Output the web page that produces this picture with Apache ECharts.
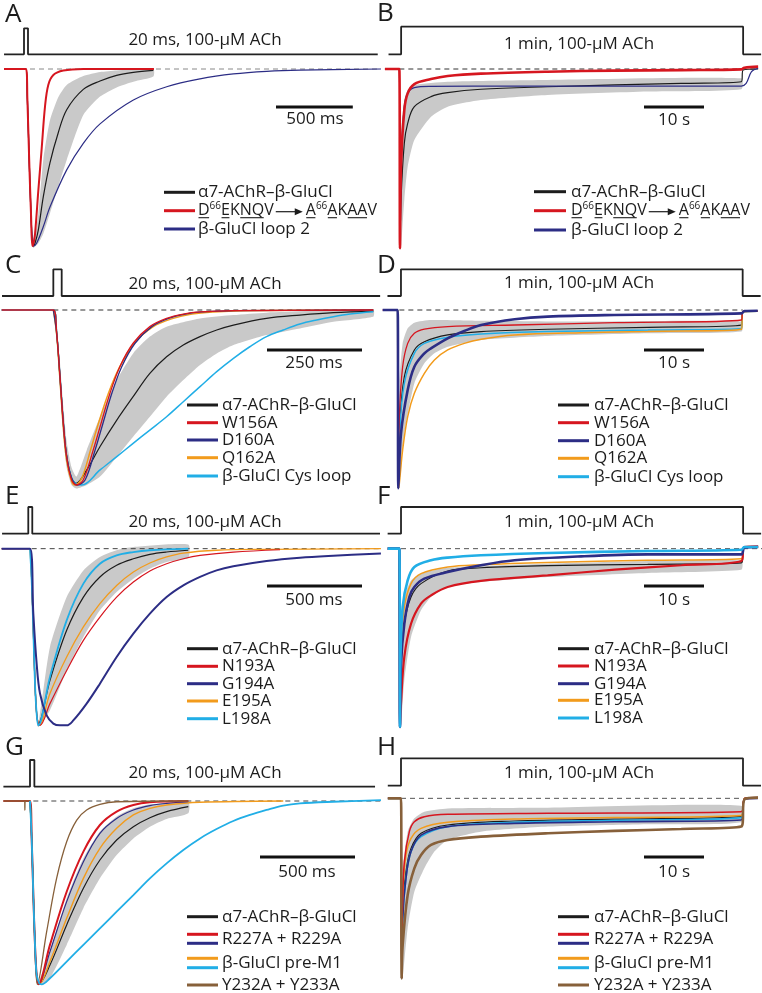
<!DOCTYPE html>
<html><head><meta charset="utf-8">
<script src="https://cdn.jsdelivr.net/npm/echarts@6/dist/echarts.min.js"></script>
<style>html,body{margin:0;padding:0;background:#fff}#c{width:762px;height:993px}</style>
</head><body><div id="c"></div>
<script>
// ===== DATA (time in ms for A,C,E,G; in s for B,D,F,H; current in % of peak) =====
const A_black=[[-143,0],[0,0],[9,-17],[22,-55],[33,-83],[41,-97],[48,-100],[60,-98],[80,-91],[113,-72],[156,-53],[210,-36],[265,-23],[373,-11.5],[482,-6.8],[590,-3.6],[699,-1.9],[829,-0.8]];
const A_red=[[-143,0],[0,0],[9,-17],[22,-55],[33,-83],[41,-100],[50,-98],[59,-93],[80,-69],[102,-45],[124,-21],[145,-9],[178,-3.4],[243,-0.9],[373,0],[833,0]];
const A_blue=[[-143,0],[0,0],[9,-17],[22,-55],[33,-83],[41,-97],[48,-100],[69,-98.5],[113,-89],[156,-78],[265,-57],[373,-42],[482,-31],[699,-17.5],[916,-10],[1133,-5.6],[1350,-2.8],[1567,-1.3],[1784,-0.6],[2311,0]];
const A_bandHi=[[0,0],[9,-15],[22,-50],[33,-80],[44,-96],[60,-93],[80,-82],[113,-51],[156,-29],[210,-16],[265,-9],[373,-4],[482,-1.7],[590,-0.8],[829,0]];
const A_bandLo=[[0,0],[9,-20],[22,-60],[33,-88],[46,-101],[80,-98.5],[113,-93],[156,-81.5],[210,-66.5],[265,-51.4],[373,-26],[482,-15.6],[590,-10.4],[699,-7.2],[829,-4.3]];

const B_black=[[-2.4,0],[0,0],[0.11,-100],[0.28,-73],[0.83,-41.4],[1.39,-30.3],[2.5,-21],[5.28,-15.4],[8.06,-13.2],[13.6,-11.3],[24.7,-9.9],[35.9,-8.9],[47,-8],[57,-7.1],[57.3,-0.6],[59.8,0]];
const B_red=[[-2.4,0],[0,0],[0.11,-100],[0.28,-54.5],[0.83,-22.9],[1.39,-13.6],[2.5,-8.4],[5.28,-5.6],[8.06,-3.9],[13.6,-2.6],[24.7,-1.5],[35.9,-0.9],[47,-0.6],[57,-0.2],[57.5,0.7],[59.8,1.3]];
const B_blue=[[-2.4,0],[0,0],[0.11,-100],[0.39,-45.2],[0.83,-21],[1.39,-13.6],[2.5,-10.4],[5.28,-9.7],[19.2,-9.5],[57,-9.5],[57.8,-8],[58.7,-1.5],[59.8,0.4]];
const B_bandHi=[[0,0],[0.11,-90],[0.28,-35.9],[0.83,-17.3],[1.39,-11.7],[2.5,-8.9],[8.06,-7.1],[24.7,-6.1],[57,-5.2]];
const B_bandLo=[[0,0],[0.11,-100],[0.28,-100],[0.83,-73],[1.39,-54.5],[2.5,-39.6],[5.28,-26.6],[8.06,-21],[13.6,-17.3],[24.7,-14.5],[41.4,-12.6],[57,-11.3]];

const C_black=[[-136,0],[0,0],[8.8,-13],[17.5,-38],[26.3,-64],[35,-83],[48,-96],[60,-99],[88,-91.4],[123,-78],[167,-62.9],[210,-49.5],[254,-36.2],[298,-26.7],[342,-20],[386,-15.2],[430,-11.4],[474,-8.6],[561,-4.8],[649,-2.9],[737,-1.5],[842,-0.8]];
const C_red=[[-136,0],[0,0],[8.8,-13.3],[17.5,-38],[26.3,-64.8],[35,-83.8],[48,-97],[61,-100],[79,-97],[105,-80],[123,-66.7],[149,-47.6],[175,-32.4],[210,-19],[254,-9.5],[298,-4.8],[342,-2.3],[386,-1.1],[474,-0.4],[842,0]];
const C_blue=[[0,0],[8.8,-13.3],[17.5,-38],[26.3,-64.8],[35,-83.8],[48,-96],[63,-100],[84,-97],[110,-80],[128,-66.7],[154,-47.6],[180,-32.4],[215,-19],[259,-9.5],[303,-4.8],[347,-2.3],[391,-1.1],[479,-0.4],[842,0]];
const C_orange=[[0,0],[8.8,-14],[17.5,-40],[26.3,-67],[35,-86],[48,-98],[57,-100],[75,-96],[98,-80],[116,-66.7],[145,-47.6],[175,-32.4],[213,-19],[263,-9.5],[315,-4.8],[365,-2.3],[420,-1.1],[500,-0.4],[842,0]];
const C_cyan=[[-136,0],[0,0],[8.8,-13.3],[17.5,-38],[26.3,-64.8],[35,-83.8],[48,-96],[61,-99.5],[75,-100],[123,-91.4],[167,-83.8],[210,-76.2],[254,-68.6],[298,-61],[342,-52.4],[386,-43.8],[430,-35.2],[474,-27.6],[517,-21],[561,-15.2],[605,-11.4],[649,-8],[693,-5.7],[737,-3.8],[781,-2.3],[842,-1]];
const C_bandHi=[[0,0],[8.8,-10],[17.5,-30],[26.3,-55],[35,-75],[48,-90],[61,-95.2],[88,-80],[123,-61],[167,-40],[210,-24.8],[254,-15.2],[298,-9.5],[386,-4.8],[474,-2.9],[561,-1.5],[842,0]];
const C_bandLo=[[0,0],[8.8,-18],[17.5,-45],[26.3,-72],[35,-90],[48,-100],[61,-102],[88,-100],[123,-95.2],[167,-83.8],[210,-72.4],[254,-61],[298,-49.5],[342,-40],[386,-31.4],[430,-24.8],[474,-20],[561,-14.3],[649,-10.5],[737,-6.7],[842,-3.8]];

const D_red=[[-2.5,0],[0,0],[0.11,-100],[0.28,-59.8],[0.83,-31.8],[1.67,-18.7],[2.78,-13.1],[4.45,-10.7],[8.34,-9.3],[19.5,-8.4],[36.1,-7.1],[57.3,-5.6],[57.5,-0.9],[60,-0.6]];
const D_blue=[[-2.5,0],[0,0],[0.11,-100],[0.56,-69.2],[1.67,-44.9],[2.78,-31.8],[4.45,-24.3],[5.56,-21.5],[8.34,-15.9],[11.1,-11.8],[13.9,-8.4],[19.5,-5.2],[25,-3.7],[36.1,-2.8],[57.3,-1.9],[57.8,-0.6],[60,-0.4]];
const D_black=[[0,0],[0.11,-100],[0.28,-69.2],[1.11,-37.4],[2.78,-22.4],[4.45,-17.8],[8.34,-14],[13.9,-12.1],[25,-10.8],[41.7,-9.7],[57.3,-8.4],[57.5,-0.9],[60,-0.4]];
const D_cyan=[[0,0],[0.11,-100],[0.28,-71],[1.11,-41.1],[2.78,-24.3],[4.45,-18.7],[8.34,-15.3],[13.9,-13.5],[25,-12.1],[41.7,-11.2],[57.3,-10.3],[57.5,-1.1],[60,-0.7]];
const D_orange=[[0,0],[0.11,-100],[0.28,-97.2],[0.83,-78.5],[1.67,-59.8],[2.78,-46.7],[4.45,-35.5],[6.12,-28],[8.34,-22.4],[11.1,-18.7],[13.9,-16.4],[19.5,-14],[30.6,-12.7],[41.7,-12],[57.3,-10.8],[57.5,-1.1],[60,-0.7]];
const D_bandHi=[[0,0],[0.11,-90],[0.28,-41],[0.83,-18.7],[1.67,-10.3],[2.78,-7.1],[5.56,-5.6],[13.9,-6],[30.6,-6.5],[57.3,-6.5]];
const D_bandLo=[[0,0],[0.11,-100],[0.28,-100],[1.11,-69.2],[2.78,-41.1],[4.45,-29.9],[6.12,-24.3],[8.34,-20.6],[13.9,-16.8],[25,-14.6],[41.7,-13.1],[57.3,-12.1]];

const E_black=[[-149,0],[0,0],[8.8,-17.9],[17.5,-46.2],[26.3,-76.4],[35,-93.4],[43.9,-99],[105,-74.5],[193,-46.2],[281,-27.4],[368,-16],[456,-9.4],[544,-5.7],[631,-3.2],[719,-1.9],[833,-0.9]];
const E_red=[[-149,0],[0,0],[8.8,-17.9],[17.5,-46.2],[26.3,-76.4],[35,-93.4],[43.9,-99],[52.6,-100],[105,-87.7],[193,-68.9],[281,-51.9],[368,-38.7],[456,-27.4],[544,-18.9],[631,-12.6],[719,-8.5],[807,-5.7],[895,-3.8],[1070,-1.9],[1316,-0.6]];
const E_orange=[[0,0],[8.8,-17.9],[17.5,-46.2],[26.3,-76.4],[35,-93.4],[43.9,-99],[49,-100],[105,-82],[193,-61.3],[281,-44.3],[368,-31.1],[456,-20.8],[544,-13.2],[631,-8.1],[719,-4.7],[807,-2.5],[982,-0.9],[1245,-0.4],[1847,0]];
const E_cyan=[[0,0],[8.8,-17.9],[17.5,-46.2],[26.3,-76.4],[35,-93.4],[43.9,-100],[105,-72.6],[193,-40.6],[281,-19.8],[368,-8.5],[456,-3.8],[544,-1.9],[631,-0.9],[833,0]];
const E_blue=[[-149,0],[0,0],[17.5,-36.8],[35,-65.1],[52.6,-82],[87.7,-94.3],[123,-99],[158,-100],[193,-100],[228,-97.2],[298,-87.7],[368,-76.4],[456,-61.3],[544,-48.1],[631,-36.8],[719,-27.4],[807,-20.8],[895,-16],[982,-12.3],[1070,-10],[1245,-7],[1421,-5.1],[1596,-4],[1847,-2.8]];
const E_bandHi=[[0,0],[17.5,-40],[35,-88],[43.9,-99],[105,-55.7],[193,-27.4],[281,-12.3],[368,-4.7],[456,-0.9],[544,0.9],[833,2.3]];
const E_bandLo=[[0,0],[17.5,-52],[35,-97],[43.9,-101],[105,-91.5],[193,-68.9],[281,-50],[368,-34.9],[456,-24.5],[544,-17],[631,-11.3],[719,-7.5],[833,-5.3]];

const F_cyan=[[-1.95,0],[0,0],[0.11,-100],[0.17,-64.5],[0.56,-32.7],[1.39,-17.8],[2.5,-10.3],[5.28,-6.5],[8.06,-5],[13.6,-3.7],[24.7,-2.4],[41.4,-1.3],[57,-0.6],[57.5,0.9],[59.8,0.9]];
const F_blue=[[-1.95,0],[0,0],[0.11,-100],[0.28,-64.5],[0.83,-42.1],[1.67,-27.1],[2.5,-21.5],[4.17,-16.8],[8.06,-13.1],[13.6,-9.3],[19.2,-6.5],[30.3,-4.3],[41.4,-3.2],[57,-3.2],[57.5,0.6],[59.8,0.9]];
const F_orange=[[0,0],[0.11,-100],[0.28,-55.1],[0.83,-32.7],[1.95,-19.6],[3.61,-14],[8.06,-10.3],[13.6,-9],[24.7,-7.7],[41.4,-6.5],[57,-5.6],[57.5,0.6],[59.8,0.9]];
const F_black=[[0,0],[0.11,-100],[0.28,-64.5],[0.83,-42.1],[1.95,-27.1],[3.61,-19.6],[8.06,-12.5],[13.6,-10.7],[24.7,-9.5],[41.4,-8.8],[57,-8],[57.5,0.6],[59.8,0.9]];
const F_red=[[-1.95,0],[0,0],[0.11,-100],[0.28,-86.9],[0.83,-60.7],[1.95,-42.1],[3.61,-30.8],[5.28,-26.2],[8.06,-21.5],[13.6,-18.1],[24.7,-15],[35.9,-11.8],[47,-9.3],[57,-6.9],[57.5,0.9],[59.8,1.3]];
const F_bandHi=[[0,0],[0.11,-90],[0.28,-45.8],[0.83,-27.1],[1.95,-17.8],[3.61,-14],[8.06,-10.7],[24.7,-8.4],[57,-6.5]];
const F_bandLo=[[0,0],[0.11,-100],[0.28,-100],[0.83,-73.8],[1.95,-49.5],[3.61,-34.6],[5.28,-27.1],[8.06,-21.5],[13.6,-18.7],[24.7,-15.9],[41.4,-13.6],[57,-11.8]];

const G_black=[[0,0],[8.8,-20.4],[17.5,-51.3],[26.3,-78.5],[35,-94.9],[49,-99.5],[105,-89.5],[193,-67.6],[281,-47.6],[368,-32.2],[456,-21.3],[544,-14],[631,-9.1],[719,-5.8],[833,-3.1]];
const G_red=[[-140,0],[0,0],[8.8,-20.4],[17.5,-51.3],[26.3,-78.5],[35,-94.9],[43.9,-100],[105,-78.5],[193,-49.5],[281,-27.6],[368,-13.1],[456,-5.8],[544,-2.2],[631,-0.7],[833,0]];
const G_blue=[[0,0],[8.8,-20.4],[17.5,-51.3],[26.3,-78.5],[35,-94.9],[43.9,-100],[105,-82.2],[193,-54.9],[281,-33.1],[368,-17.6],[456,-9.5],[544,-4.9],[631,-2.5],[719,-1.3],[833,-0.4]];
const G_orange=[[0,0],[8.8,-20.4],[17.5,-51.3],[26.3,-78.5],[35,-94.9],[49,-100],[105,-87.6],[193,-64],[281,-42.2],[368,-25.8],[456,-14.9],[544,-7.6],[631,-4],[719,-2.2],[895,-0.7],[1333,0]];
const G_cyan=[[0,0],[8.8,-20.4],[17.5,-51.3],[26.3,-78.5],[35,-94.9],[49,-99.5],[61,-100],[105,-96.7],[193,-87.6],[281,-78.5],[368,-69.5],[456,-60.4],[544,-51.3],[631,-42.2],[719,-34],[807,-26.7],[895,-20.4],[982,-15.3],[1070,-10.9],[1158,-7.6],[1245,-4.9],[1333,-2.5],[1421,-1.3],[1596,-0.4],[1847,0.5]];
const G_brown=[[-140,0],[-28,0],[-27,-5],[-25,0],[0,0],[8.8,-20.4],[17.5,-51.3],[26.3,-78.5],[38.6,-100],[87.7,-71.3],[140,-42.2],[193,-22.2],[246,-10.4],[298,-4.9],[368,-1.8],[456,-0.4],[833,0]];
const G_bandHi=[[0,0],[17.5,-45],[35,-90],[43.9,-98.5],[105,-82.2],[193,-53.1],[281,-31.3],[368,-16.7],[456,-8.5],[544,-4],[631,-1.8],[833,-0.4]];
const G_bandLo=[[0,0],[17.5,-56],[35,-99],[52.6,-100.4],[105,-96.7],[193,-78.5],[281,-58.5],[368,-42.2],[456,-29.5],[544,-20.4],[631,-14],[719,-9.8],[833,-6.7]];

const H_red=[[-2.2,0],[0,0],[0.11,-100],[0.22,-63],[0.56,-35.2],[1.39,-18.5],[2.22,-13],[3.89,-10.2],[7.78,-8.9],[24.5,-8.3],[56.7,-7.4],[57.3,0],[59.5,0.4]];
const H_orange=[[0,0],[0.11,-100],[0.28,-53.7],[0.83,-31.5],[1.67,-22.2],[3.34,-16.7],[7.78,-13.3],[18.9,-11.5],[35.6,-10.7],[56.7,-9.6],[57.3,0],[59.5,0.4]];
const H_black=[[0,0],[0.11,-100],[0.28,-63],[0.83,-40.7],[1.67,-27.8],[3.34,-19.4],[7.78,-14.8],[18.9,-12.6],[35.6,-11.5],[56.7,-10.2],[57.3,0],[59.5,0.4]];
const H_cyan=[[-2.2,0],[0,0],[0.11,-100],[0.28,-66.7],[0.83,-44.4],[1.67,-29.6],[3.34,-21.3],[7.78,-15.7],[18.9,-13.3],[35.6,-12.2],[56.7,-10.7],[57.3,0],[59.5,0.4]];
const H_blue=[[0,0],[0.11,-100],[0.28,-66.7],[0.83,-44.4],[1.67,-29.6],[3.34,-20.4],[7.78,-15.7],[18.9,-13.9],[35.6,-13],[56.7,-12],[57.3,-0.4],[59.5,0]];
const H_brown=[[-2.2,0],[0,0],[0.11,-100],[0.28,-81.5],[1.11,-53.7],[2.22,-38.9],[3.34,-31.5],[5,-25.9],[7.78,-23.1],[13.3,-21.3],[24.5,-19.4],[35.6,-18.1],[46.7,-17],[56.7,-15.7],[57.3,-0.4],[59.5,0.4]];
const H_bandHi=[[0,0],[0.11,-90],[0.28,-40.7],[1.11,-18.5],[2.22,-11.1],[3.89,-7.4],[7.78,-5.6],[24.5,-5.2],[56.7,-4.1]];
const H_bandLo=[[0,0],[0.11,-100],[0.28,-100],[1.11,-72.2],[2.22,-51.9],[3.89,-38.9],[5.56,-29.6],[7.78,-23.1],[13.3,-18.5],[24.5,-15.7],[41.1,-14.4],[56.7,-13.3]];

// stimulus protocol times: [trace start, ACh on, ACh off, trace end]
const stimA=[-143,-13,13,2290], stimB=[-1.8,0.3,57.3,60.3], stimC=[-135,0,22,860], stimD=[-1.7,0.55,57.5,60.5];
const stimE=[-147,-9,12,1842], stimF=[-1.95,0.28,57.3,60.3], stimG=[-140,0,23,1816], stimH=[-2.2,0,57,60];
// zero-current baseline extents [from, to]
const baseA=[26,2311], baseB=[0,59.8], baseC=[0,842], baseD=[0.28,57.5], baseE=[8.8,1847], baseF=[0.28,60.5], baseG=[17.5,1847], baseH=[0,57];
// scale bar lengths and labels
const scaleLen={A:500,B:10,C:250,D:10,E:500,F:10,G:500,H:10};
const scaleLbl={A:'500 ms',B:'10 s',C:'250 ms',D:'10 s',E:'500 ms',F:'10 s',G:'500 ms',H:'10 s'};
const stimLbl={A:'20 ms, 100-µM ACh',B:'1 min, 100-µM ACh',C:'20 ms, 100-µM ACh',D:'1 min, 100-µM ACh',E:'20 ms, 100-µM ACh',F:'1 min, 100-µM ACh',G:'20 ms, 100-µM ACh',H:'1 min, 100-µM ACh'};
const WT='α7-AChR–β-GluCl';
const MUT=[['D','u'],['66','s'],['E','u'],['K',''],['NQ','u'],['V',''],['','a'],['A','u'],['66','s'],['A','u'],['K',''],['AA','u'],['V','']];

// ===== STYLE / LAYOUT =====
const BLK='#1c1c1c', RED='#d6161f', NAVY='#2c2d85', ORG='#f29b1c', CYAN='#21aee6', BRN='#87603a', BAND='#c9c9c9';
const FONT='"Open Sans","DejaVu Sans",sans-serif';

const panels=[
 {id:'A',box:[0,0,381,250],t0x:26,ppu:0.1536,y0:69,amp:177,stim:stimA,sLo:54.3,sHi:28.3,base:baseA,baseC:'#888',
  band:[A_bandHi,A_bandLo],tr:[[A_black,BLK,1.2],[A_blue,NAVY,1.2],[A_red,RED,2]],
  letter:[5,15],slbl:[205,40],bar:[276,107],barLbl:[315,119],
  leg:{x0:164,x1:195,tx:198,fs:17,rows:[{c:[[BLK,192.3]],ty:192.3,t:WT},{c:[[RED,210.7]],ty:210.7,runs:MUT},{c:[[NAVY,229]],ty:229,t:'β-GluCl loop 2'}]}},
 {id:'B',box:[381,0,381,250],t0x:399.33,ppu:6,y0:69,amp:179.3,stim:stimB,sLo:54.3,sHi:26.7,base:baseB,baseC:'#333',
  band:[B_bandHi,B_bandLo],tr:[[B_black,BLK,1.2],[B_blue,NAVY,1.2],[B_red,RED,2.6]],
  letter:[377,14],slbl:[579,44],bar:[644,107],barLbl:[674,120],
  leg:{x0:534,x1:566,tx:571,fs:17,rows:[{c:[[BLK,191.7]],ty:191.7,t:WT},{c:[[RED,210.7]],ty:210.7,runs:MUT},{c:[[NAVY,230]],ty:230,t:'β-GluCl loop 2'}]}},
 {id:'C',box:[0,250,381,247],t0x:53.33,ppu:0.38,y0:310,amp:175,stim:stimC,sLo:296,sHi:269.3,base:baseC,baseC:'#333',
  band:[C_bandHi,C_bandLo],tr:[[C_black,BLK,1.2],[C_cyan,CYAN,1.5],[C_orange,ORG,1.5],[C_blue,NAVY,1.3],[C_red,RED,1.3]],
  letter:[5,266],slbl:[205,284],bar:[267,350],barLbl:[314,363],
  leg:{x0:187,x1:218,tx:222,fs:17,rows:[{c:[[BLK,405]],ty:405,t:WT},{c:[[RED,422.7]],ty:422.7,t:'W156A'},{c:[[NAVY,440]],ty:440,t:'D160A'},{c:[[ORG,457.7]],ty:457.7,t:'Q162A'},{c:[[CYAN,476]],ty:476,t:'β-GluCl Cys loop'}]}},
 {id:'D',box:[381,250,381,247],t0x:397.67,ppu:6,y0:310,amp:178.3,stim:stimD,sLo:296,sHi:269.3,base:baseD,baseC:'#333',
  band:[D_bandHi,D_bandLo],tr:[[D_black,BLK,1.2],[D_cyan,CYAN,1.5],[D_orange,ORG,1.5],[D_red,RED,1.3],[D_blue,NAVY,2.6]],
  letter:[377,266],slbl:[579,283],bar:[644,350],barLbl:[674,363],
  leg:{x0:558,x1:589,tx:594,fs:17,rows:[{c:[[BLK,405]],ty:405,t:WT},{c:[[RED,422.7]],ty:422.7,t:'W156A'},{c:[[NAVY,440.7]],ty:440.7,t:'D160A'},{c:[[ORG,458.3]],ty:458.3,t:'Q162A'},{c:[[CYAN,476.7]],ty:476.7,t:'β-GluCl Cys loop'}]}},
 {id:'E',box:[0,497,381,248],t0x:30,ppu:0.19,y0:548.67,amp:176.7,stim:stimE,sLo:533.7,sHi:507,base:baseE,baseC:'#444',
  band:[E_bandHi,E_bandLo],tr:[[E_black,BLK,1.2],[E_orange,ORG,1.3],[E_red,RED,1.2],[E_cyan,CYAN,1.8],[E_blue,NAVY,2]],
  letter:[5,497],slbl:[205,522],bar:[267,586],barLbl:[314,600],
  leg:{x0:187,x1:218,tx:222,fs:17,rows:[{c:[[BLK,648.7]],ty:648.7,t:WT},{c:[[RED,666.3]],ty:666.3,t:'N193A'},{c:[[NAVY,683.7]],ty:683.7,t:'G194A'},{c:[[ORG,701]],ty:701,t:'E195A'},{c:[[CYAN,718.7]],ty:718.7,t:'L198A'}]}},
 {id:'F',box:[381,497,381,248],t0x:399.33,ppu:6,y0:548.67,amp:178.3,stim:stimF,sLo:533.7,sHi:507,base:baseF,baseC:'#555',
  band:[F_bandHi,F_bandLo],tr:[[F_black,BLK,1.2],[F_orange,ORG,1.5],[F_red,RED,2.2],[F_blue,NAVY,2.6],[F_cyan,CYAN,2.6]],
  letter:[377,497],slbl:[579,522],bar:[644,586],barLbl:[674,600],
  leg:{x0:558,x1:589,tx:594,fs:17,rows:[{c:[[BLK,648.7]],ty:648.7,t:WT},{c:[[RED,666]],ty:666,t:'N193A'},{c:[[NAVY,683.7]],ty:683.7,t:'G194A'},{c:[[ORG,700.3]],ty:700.3,t:'E195A'},{c:[[CYAN,718]],ty:718,t:'L198A'}]}},
 {id:'G',box:[0,745,381,248],t0x:30,ppu:0.19,y0:801,amp:183.3,stim:stimG,sLo:786.7,sHi:760,base:baseG,baseC:'#444',
  band:[G_bandHi,G_bandLo],tr:[[G_black,BLK,1.2],[G_orange,ORG,1.4],[G_blue,NAVY,1.2],[G_red,RED,2],[G_brown,BRN,1.3],[G_cyan,CYAN,1.8]],
  letter:[5,748],slbl:[205,773],bar:[260,857],barLbl:[307,872],
  leg:{x0:187,x1:218,tx:222,fs:17,rows:[{c:[[BLK,916.7]],ty:916.7,t:WT},{c:[[RED,934.3],[NAVY,943.3]],ty:938.8,t:'R227A + R229A'},{c:[[ORG,958.3],[CYAN,967.7]],ty:963,t:'β-GluCl pre-M1'},{c:[[BRN,985]],ty:985,t:'Y232A + Y233A'}]}},
 {id:'H',box:[381,745,381,248],t0x:401,ppu:6,y0:798.33,amp:180,stim:stimH,sLo:785.7,sHi:758.3,base:baseH,baseC:'#555',
  band:[H_bandHi,H_bandLo],tr:[[H_black,BLK,1.2],[H_cyan,CYAN,1.6],[H_blue,NAVY,1.6],[H_orange,ORG,1.5],[H_red,RED,1.5],[H_brown,BRN,2.6]],
  letter:[377,748],slbl:[579,773],bar:[644,857],barLbl:[674,872],
  leg:{x0:558,x1:589,tx:594,fs:17,rows:[{c:[[BLK,916.7]],ty:916.7,t:WT},{c:[[RED,934.3],[NAVY,943.3]],ty:938.8,t:'R227A + R229A'},{c:[[ORG,958.3],[CYAN,967.7]],ty:963,t:'β-GluCl pre-M1'},{c:[[BRN,985]],ty:985,t:'Y232A + Y233A'}]}}
];

const mctx=document.createElement('canvas').getContext('2d');
function tw(s,fs){mctx.font=fs+'px '+FONT;return mctx.measureText(s).width;}

const option={animation:false,backgroundColor:'#fff',grid:[],xAxis:[],yAxis:[],series:[],graphic:[]};
const GR=option.graphic;
function gText(x,y,t,fs,align){GR.push({type:'text',x:x,y:y,silent:true,z:100,style:{text:t,fontSize:fs,fontFamily:FONT,fill:BLK,align:align||'left',verticalAlign:'middle'}});}
function gLine(x1,y1,x2,y2,c,w){GR.push({type:'line',silent:true,z:100,shape:{x1:x1,y1:y1,x2:x2,y2:y2},style:{stroke:c,lineWidth:w}});}

panels.forEach((p,i)=>{
  const [bx,by,bw,bh]=p.box;
  const dx=px=>(px-p.t0x)/p.ppu, dy=py=>(p.y0-py)/p.amp*100;
  option.grid.push({left:bx,top:by,width:bw,height:bh,show:false});
  option.xAxis.push({type:'value',gridIndex:i,min:dx(bx),max:dx(bx+bw),show:false});
  option.yAxis.push({type:'value',gridIndex:i,min:dy(by+bh),max:dy(by),show:false});
  const base={xAxisIndex:i,yAxisIndex:i,silent:true,animation:false};
  // stimulus
  const lo=dy(p.sLo), hi=dy(p.sHi), s=p.stim;
  option.series.push(Object.assign({type:'line',symbol:'none',data:[[s[0],lo],[s[1],lo],[s[1],hi],[s[2],hi],[s[2],lo],[s[3],lo]],lineStyle:{color:'#222',width:1.8},z:2},base));
  // SD band
  const bH=p.band[0], bL=p.band[1];
  option.series.push(Object.assign({type:'custom',data:[[0,0]],z:1,renderItem:function(params,api){
    const pts=bH.concat(bL.slice().reverse()).map(q=>api.coord(q));
    return {type:'polygon',shape:{points:pts,smooth:0.2},style:{fill:BAND}};
  }},base));
  // baseline
  option.series.push(Object.assign({type:'line',symbol:'none',data:[[p.base[0],0],[p.base[1],0]],lineStyle:{color:p.baseC,width:1,type:[5,4]},z:2},base));
  // traces
  p.tr.forEach((tr,k)=>{
    option.series.push(Object.assign({type:'line',symbol:'none',data:tr[0],smooth:0.35,lineStyle:{color:tr[1],width:tr[2]},z:3+k},base));
  });
  // scale bar
  const sx=dx(p.bar[0]), sy=dy(p.bar[1]);
  option.series.push(Object.assign({type:'line',symbol:'none',data:[[sx,sy],[sx+scaleLen[p.id],sy]],lineStyle:{color:'#111',width:2.8},z:10},base));
  gText(p.barLbl[0],p.barLbl[1],scaleLbl[p.id],17,'center');
  // texts
  gText(p.letter[0],p.letter[1],p.id,26,'left');
  gText(p.slbl[0],p.slbl[1],stimLbl[p.id],17,'center');
  // legend
  const L=p.leg;
  L.rows.forEach(r=>{
    r.c.forEach(cy=>gLine(L.x0,cy[1],L.x1,cy[1],cy[0],3));
    if(r.t){gText(L.tx,r.ty,r.t,L.fs);}
    else{
      let cx=L.tx; const y=r.ty; const rfs=16;
      r.runs.forEach(run=>{
        const t=run[0], m=run[1];
        if(m==='a'){const w=30;gLine(cx+2,y+1,cx+w-4,y+1,BLK,1.2);
          GR.push({type:'polygon',silent:true,z:100,shape:{points:[[cx+w-9,y-2.5],[cx+w-1,y+1],[cx+w-9,y+4.5]]},style:{fill:BLK}});cx+=w+2;return;}
        const fs=m==='s'?10:rfs; const w=tw(t,fs);
        gText(cx,m==='s'?y-5:y,t,fs);
        if(m==='u') gLine(cx+0.5,y+7,cx+w-0.5,y+7,BLK,1.1);
        cx+=w;
      });
    }
  });
});

const chart=echarts.init(document.getElementById('c'),null,{renderer:'canvas'});
chart.setOption(option);
</script></body></html>
